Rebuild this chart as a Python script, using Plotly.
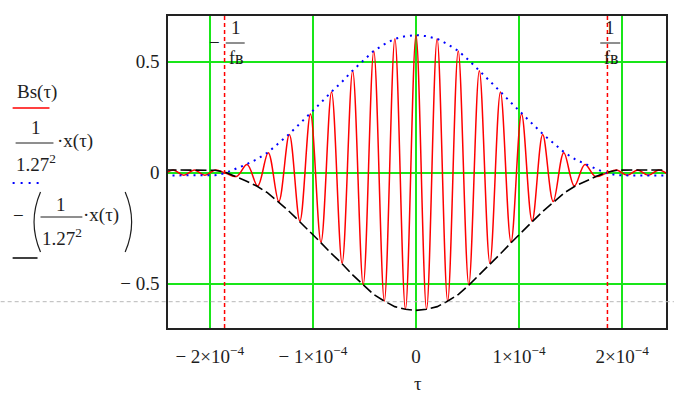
import plotly.graph_objects as go

# ---------------- data ----------------
# extremes (peaks / troughs) of Bs(tau)
tau_bs = [-2.4576e-4, -2.3552e-4, -2.2528e-4, -2.1504e-4, -2.048e-4, -1.9456e-4,
          -1.8432e-4, -1.7408e-4, -1.6384e-4, -1.536e-4, -1.4336e-4, -1.3312e-4,
          -1.2288e-4, -1.1264e-4, -1.024e-4, -0.9216e-4, -0.8192e-4, -0.7168e-4,
          -0.6144e-4, -0.512e-4, -0.4096e-4, -0.3072e-4, -0.2048e-4, -0.1024e-4,
          0.0,
          0.1024e-4, 0.2048e-4, 0.3072e-4, 0.4096e-4, 0.512e-4, 0.6144e-4,
          0.7168e-4, 0.8192e-4, 0.9216e-4, 1.024e-4, 1.1264e-4, 1.2288e-4,
          1.3312e-4, 1.4336e-4, 1.536e-4, 1.6384e-4, 1.7408e-4, 1.8432e-4,
          1.9456e-4, 2.048e-4, 2.1504e-4, 2.2528e-4, 2.3552e-4, 2.4576e-4]
bs_vals = [-0.012, 0.012, -0.012, 0.012, -0.012, 0.012,
           -0.003, -0.017, 0.037, -0.060, 0.090, -0.130,
           0.172, -0.218, 0.264, -0.313, 0.363, -0.408,
           0.459, -0.505, 0.548, -0.578, 0.603, -0.615,
           0.620,
           -0.615, 0.603, -0.578, 0.548, -0.505, 0.459,
           -0.408, 0.363, -0.313, 0.264, -0.218, 0.172,
           -0.130, 0.090, -0.060, 0.037, -0.017, -0.003,
           0.012, -0.012, 0.012, -0.012, 0.012, -0.012]

# envelope x(tau)
tau_env = [-2.43e-4, -2.25e-4, -2.10e-4, -1.95e-4, -1.854e-4, -1.751e-4, -1.648e-4,
           -1.545e-4, -1.442e-4, -1.339e-4, -1.236e-4, -1.133e-4, -1.030e-4,
           -0.927e-4, -0.824e-4, -0.721e-4, -0.618e-4, -0.515e-4, -0.412e-4,
           -0.309e-4, -0.206e-4, -0.103e-4, 0.0,
           0.103e-4, 0.206e-4, 0.309e-4, 0.412e-4, 0.515e-4, 0.618e-4, 0.721e-4,
           0.824e-4, 0.927e-4, 1.030e-4, 1.133e-4, 1.236e-4, 1.339e-4, 1.442e-4,
           1.545e-4, 1.648e-4, 1.751e-4, 1.854e-4, 1.95e-4, 2.10e-4, 2.25e-4, 2.43e-4]
x_env = [-0.020, -0.020, -0.020, -0.018, -0.004, 0.026, 0.060,
         0.097, 0.145, 0.210, 0.277, 0.352, 0.426,
         0.505, 0.585, 0.658, 0.740, 0.815, 0.884,
         0.932, 0.973, 0.992, 1.000,
         0.992, 0.973, 0.932, 0.884, 0.815, 0.740, 0.658,
         0.585, 0.505, 0.426, 0.352, 0.277, 0.210, 0.145,
         0.097, 0.060, 0.026, -0.004, -0.018, -0.020, -0.020, -0.020]
scale = 1 / 1.27 ** 2
f_v = 5385.0          # fв, Hz
page_line = -0.581    # grey dashed page-break line

x_ticks = [-2e-4, -1e-4, 0, 1e-4, 2e-4]
x_ticktext = ["− 2×10<sup>−4</sup>", "− 1×10<sup>−4</sup>", "0",
              "1×10<sup>−4</sup>", "2×10<sup>−4</sup>"]
y_ticks = [-0.5, 0, 0.5]
y_ticktext = ["− 0.5", "0", "0.5"]

# ---------------- layout helpers ----------------
W, H = 676, 396
L, R, T, B = 168, 8, 16, 68
PW, PH = W - L - R, H - T - B
FONT = "Liberation Serif, Times New Roman, serif"
TXT = "#1e1e1e"
GREEN = "#19e619"


def px(x):
    return (x - L) / PW


def py(y):
    return (H - B - y) / PH


fig = go.Figure()
fig.add_trace(go.Scatter(x=tau_bs, y=bs_vals, mode="lines",
                         line=dict(color="#ff0000", width=1.5, shape="spline", smoothing=1.0),
                         showlegend=False))
fig.add_trace(go.Scatter(x=tau_env, y=[scale * v for v in x_env], mode="lines",
                         line=dict(color="#0000ff", width=2, dash="2px,5px"),
                         showlegend=False))
fig.add_trace(go.Scatter(x=tau_env, y=[-scale * v for v in x_env], mode="lines",
                         line=dict(color="#000000", width=1.6, dash="11px,4px"),
                         showlegend=False))

shapes = []
for xv in (-1 / f_v, 1 / f_v):
    shapes.append(dict(type="line", xref="x", yref="paper", x0=xv, x1=xv, y0=0, y1=1,
                       line=dict(color="#ff0000", width=1.5, dash="4px,3px"), layer="above"))
shapes.append(dict(type="line", xref="paper", yref="y", x0=px(0), x1=px(W), y0=page_line,
                   y1=page_line, line=dict(color="#b8b8b8", width=1, dash="4px,3px"),
                   layer="above"))


def hline(x0, x1, y, color=TXT, width=1, dash=None):
    ln = dict(color=color, width=width)
    if dash:
        ln["dash"] = dash
    shapes.append(dict(type="line", xref="paper", yref="paper", x0=px(x0), x1=px(x1),
                       y0=py(y), y1=py(y), line=ln, layer="above"))


# legend-like block
hline(12, 49, 108, color="#ff0000", width=1.5)
hline(15, 53, 143)
hline(12, 43, 183, color="#0000ff", width=2, dash="2px,6px")
hline(40, 82, 217)
hline(12, 37, 258, color="#000000", width=1.5)
# parentheses
for (xa, xc) in ((40, 27), (125, 138)):
    path = "M {:.5f},{:.5f} Q {:.5f},{:.5f} {:.5f},{:.5f}".format(
        px(xa), py(192), px(xc), py(222), px(xa), py(252))
    shapes.append(dict(type="path", xref="paper", yref="paper", path=path,
                       line=dict(color=TXT, width=1.2)))
# 1/fв fraction bars
hline(226, 245, 43)
hline(602, 622, 43)

annotations = []


def text(x, y, s, xanchor="center", size=19):
    annotations.append(dict(x=px(x), y=py(y), xref="paper", yref="paper", text=s,
                            showarrow=False, xanchor=xanchor, yanchor="middle",
                            font=dict(family=FONT, size=size, color=TXT)))


text(36, 92, "Bs(τ)")
text(35, 128, "1")
text(55, 141, "·x(τ)", xanchor="left")
text(35, 163, "1.27<sup>2</sup>")
text(18, 216, "−")
text(61, 204, "1")
text(81, 215, "·x(τ)", xanchor="left")
text(62, 237, "1.27<sup>2</sup>")
text(215, 42, "−")
text(236, 28, "1")
text(237, 58, "fв", size=18)
text(612, 28, "1")
text(613, 58, "fв", size=18)
text(419, 383, "τ")

fig.update_layout(
    width=W, height=H, margin=dict(l=L, r=R, t=T, b=B),
    paper_bgcolor="white", plot_bgcolor="white",
    shapes=shapes, annotations=annotations, showlegend=False,
    xaxis=dict(range=[-2.4058e-4, 2.4251e-4], tickvals=x_ticks, ticktext=x_ticktext,
               showgrid=True, gridcolor=GREEN, gridwidth=1.5, zeroline=False,
               showline=True, mirror=True, linecolor="#222222", linewidth=1.5,
               ticks="", ticklabelstandoff=10,
               tickfont=dict(family=FONT, size=19, color=TXT)),
    yaxis=dict(range=[-0.6995, 0.7059], tickvals=y_ticks, ticktext=y_ticktext,
               showgrid=True, gridcolor=GREEN, gridwidth=1.5, zeroline=False,
               showline=True, mirror=True, linecolor="#222222", linewidth=1.5,
               ticks="", ticklabelstandoff=3,
               tickfont=dict(family=FONT, size=19, color=TXT)),
)

fig.write_html("out.html")
